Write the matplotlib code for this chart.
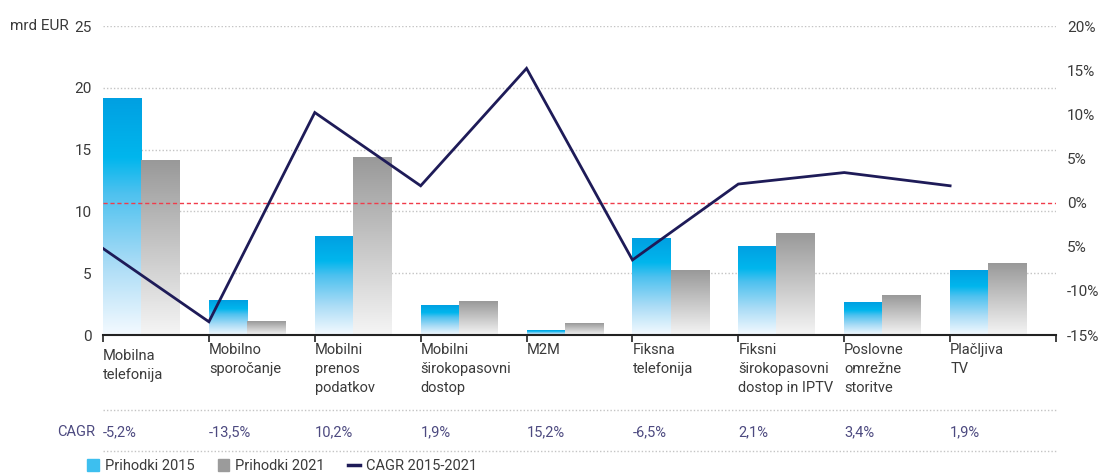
import numpy as np
import matplotlib
matplotlib.use("Agg")
import matplotlib.pyplot as plt
from matplotlib.colors import LinearSegmentedColormap
from matplotlib.patches import Patch
from matplotlib.lines import Line2D
from matplotlib.transforms import blended_transform_factory

plt.rcParams['font.family'] = ['Roboto', 'DejaVu Sans']

## Data
categories = ['Mobilna\ntelefonija', 'Mobilno\nsporočanje', 'Mobilni\nprenos\npodatkov',
              'Mobilni\nširokopasovni\ndostop', 'M2M', 'Fiksna\ntelefonija',
              'Fiksni\nširokopasovni\ndostop in IPTV', 'Poslovne\nomrežne\nstoritve',
              'Plačljiva\nTV']
rev_2015 = [19.1, 2.8, 8.0, 2.4, 0.4, 7.8, 7.2, 2.6, 5.2]
rev_2021 = [14.1, 1.1, 14.4, 2.7, 0.9, 5.2, 8.2, 3.2, 5.75]
cagr = [-5.2, -13.5, 10.2, 1.9, 15.2, -6.5, 2.1, 3.4, 1.9]
cagr_labels = ['-5,2%', '-13,5%', '10,2%', '1,9%', '15,2%', '-6,5%', '2,1%', '3,4%', '1,9%']
left_ticks = [0, 5, 10, 15, 20, 25]
right_ticks = [-15, -10, -5, 0, 5, 10, 15, 20]
right_labels = ['-15%', '-10%', '5%', '0%', '5%', '10%', '15%', '20%']

txt_col = '#3a3a3a'
cagr_col = '#4d4a80'
line_col = '#1e1b58'

blue_cm = LinearSegmentedColormap.from_list('b', [(0, '#f4faff'), (0.3, '#aadcf6'),
                                                   (0.6, '#4dc1ef'), (0.75, '#00b6ed'),
                                                   (1, '#00a0e2')])
gray_cm = LinearSegmentedColormap.from_list('g', [(0, '#f5f5f5'), (1, '#999999')])

fig = plt.figure(figsize=(11.01, 4.73), dpi=100)
ax = fig.add_axes([103/1101, 1-335/473, (1056-103)/1101, (335-26)/473])
ax2 = ax.twinx()

n = len(categories)
x = np.arange(n)
w = 0.36
grad = np.linspace(1, 0, 256).reshape(-1, 1)
for i in range(n):
    ax.imshow(grad, cmap=blue_cm, extent=[x[i], x[i] + w, 0, rev_2015[i]],
              aspect='auto', zorder=2, vmin=0, vmax=1)
    ax.imshow(grad, cmap=gray_cm, extent=[x[i] + w, x[i] + 2*w, 0, rev_2021[i]],
              aspect='auto', zorder=2, vmin=0, vmax=1)

ax.set_xlim(0, n)
ax.set_ylim(0, 25)
ax.set_yticks(left_ticks)
for t in left_ticks[1:]:
    ax.axhline(t, color='#c4c4c4', lw=1, ls=(0, (1, 1.5)), zorder=1)
ax.tick_params(axis='y', length=0, pad=8, labelsize=11, labelcolor=txt_col)
ax.set_xticks(np.arange(n + 1))
ax.set_xticklabels([])
ax.tick_params(axis='x', length=5, width=1.2, color='#222222', direction='out')
for s in ['top', 'left', 'right']:
    ax.spines[s].set_visible(False)
ax.spines['bottom'].set_linewidth(1.5)
ax.spines['bottom'].set_color('#222222')

ax2.plot(x, cagr, color=line_col, lw=2, zorder=5, solid_joinstyle='miter')
ax2.axhline(0, color='#f03c4b', lw=1, ls=(0, (3, 2)), zorder=4)
ax2.set_ylim(-15, 20)
ax2.set_yticks(right_ticks)
ax2.set_yticklabels(right_labels)
ax2.tick_params(axis='y', length=0, pad=8, labelsize=11, labelcolor=txt_col)
for s in ['top', 'left', 'right', 'bottom']:
    ax2.spines[s].set_visible(False)

tr = blended_transform_factory(ax.transData, ax.transAxes)
for i, lab in enumerate(categories):
    dy = -0.045 if i == 0 else -0.025
    ax.text(x[i], dy, lab, transform=tr, ha='left', va='top', fontsize=10.5,
            color=txt_col, linespacing=1.45)
    ax.text(x[i], -0.314, cagr_labels[i], transform=tr, ha='left', va='center',
            fontsize=10.5, color=cagr_col)
ax.text(-0.07, -0.314, 'CAGR', transform=tr, ha='right', va='center',
        fontsize=10.5, color=cagr_col)
for ya in [-0.243, -0.375]:
    ax.plot([0, 1], [ya, ya], transform=ax.transAxes, clip_on=False,
            color='#c4c4c4', lw=1, ls=(0, (1, 1.5)))

fig.text(10/1101, 1-26/473, 'mrd EUR', ha='left', va='center', fontsize=11, color=txt_col)

handles = [Patch(color='#3dbfef'), Patch(color='#9b9b9b'),
           Line2D([0], [0], color=line_col, lw=2.5)]
fig.legend(handles, ['Prihodki 2015', 'Prihodki 2021', 'CAGR 2015-2021'],
           loc='center left', bbox_to_anchor=(74/1101, 1-466/473), ncol=3,
           frameon=False, fontsize=10.5, handlelength=0.8, handleheight=0.8,
           handletextpad=0.4, columnspacing=1.6, labelcolor=txt_col)

fig.savefig('out.png', dpi=100)
